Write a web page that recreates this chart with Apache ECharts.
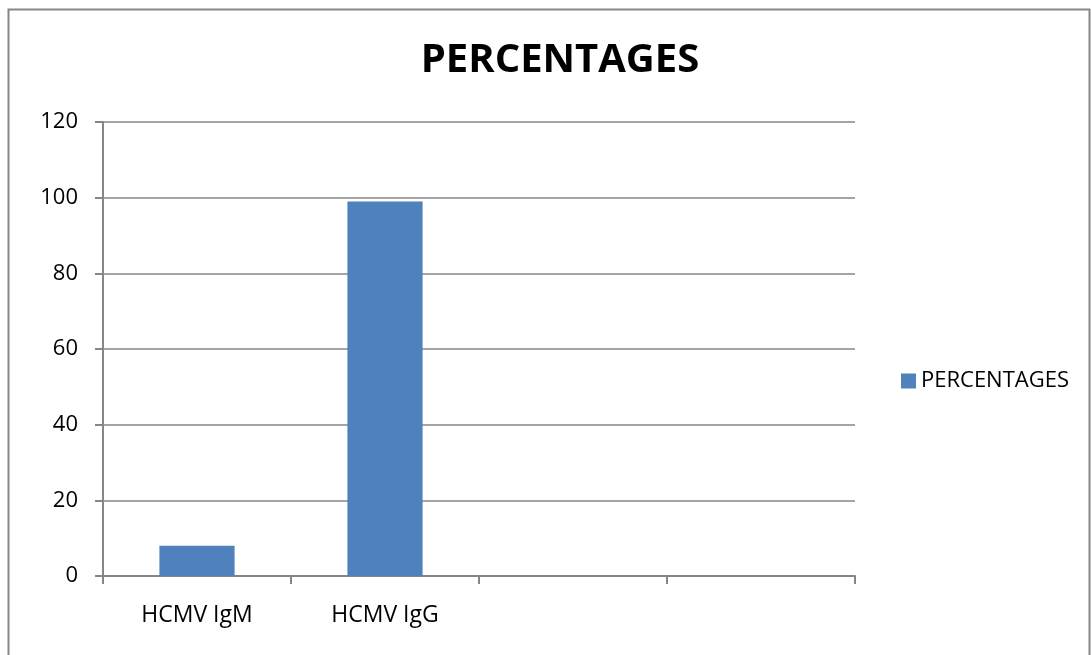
<!DOCTYPE html>
<html>
<head>
<meta charset="utf-8">
<style>
  html, body { margin: 0; padding: 0; background: #fff; }
  #chart { width: 1091px; height: 655px; }
</style>
<script src="https://cdn.jsdelivr.net/npm/echarts@6/dist/echarts.min.js"></script>
</head>
<body>
<div id="chart"></div>
<script>
// Categories along the x axis (the last two slots are empty)
const categories = ['HCMV IgM', 'HCMV IgG', '', ''];
// Percentage values per category
const percentages = [8, 99, null, null];
const seriesName = 'PERCENTAGES';
const titleText = 'PERCENTAGES';

const font = '"Open Sans", "Liberation Sans", sans-serif';
const gray = '#868686';

const chart = echarts.init(document.getElementById('chart'), null, { renderer: 'canvas' });
chart.setOption({
  animation: false,
  backgroundColor: '#fff',
  graphic: [{
    type: 'rect',
    shape: { x: 8.5, y: 9.5, width: 1081, height: 700 },
    style: { fill: 'none', stroke: gray, lineWidth: 2 },
    silent: true
  }],
  title: {
    text: titleText,
    left: 555, top: 36, textAlign: 'center',
    textStyle: { fontFamily: font, fontSize: 40, fontWeight: 'bold', color: '#000' }
  },
  legend: {
    data: [seriesName],
    left: 896, top: 365,
    itemWidth: 15, itemHeight: 15, itemGap: 6,
    icon: 'rect',
    textStyle: { fontFamily: font, fontSize: 22, color: '#000' }
  },
  grid: { left: 103, right: 236, top: 122, bottom: 79, containLabel: false },
  xAxis: {
    type: 'category',
    data: categories,
    axisLine: { lineStyle: { color: gray, width: 2 } },
    axisTick: { show: true, alignWithLabel: false, length: 8, lineStyle: { color: gray, width: 2 } },
    axisLabel: { fontFamily: font, fontSize: 23, color: '#000', margin: 28, interval: 0 },
    splitLine: { show: false }
  },
  yAxis: {
    type: 'value',
    min: 0, max: 120, interval: 20,
    axisLine: { show: true, lineStyle: { color: gray, width: 2 } },
    axisTick: { show: true, length: 8, lineStyle: { color: gray, width: 2 } },
    axisLabel: { fontFamily: font, fontSize: 22, color: '#000', margin: 25 },
    splitLine: { show: true, lineStyle: { color: gray, width: 1.5 } }
  },
  series: [{
    name: seriesName,
    type: 'bar',
    data: percentages,
    barCategoryGap: '60%',
    itemStyle: { color: '#4F81BD' }
  }]
});
</script>
</body>
</html>
